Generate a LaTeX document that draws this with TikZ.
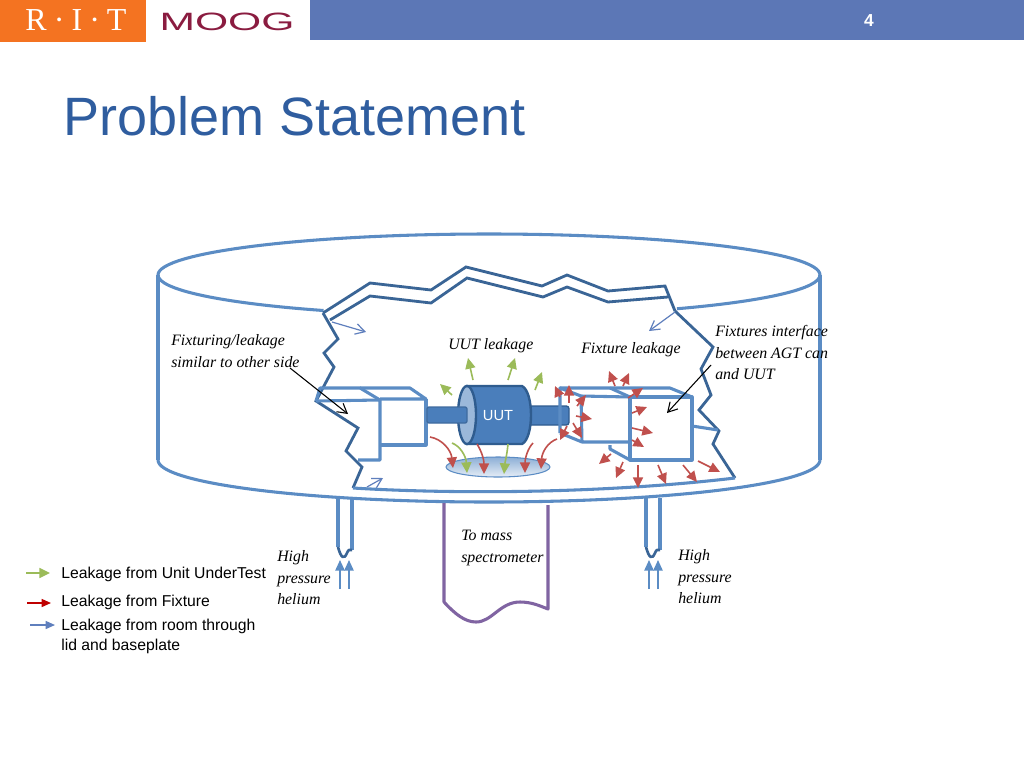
\documentclass[tikz,border=0pt]{standalone}
\usepackage{fontspec}
\setmainfont{Liberation Sans}
\newfontfamily\labelfont{Liberation Serif}
\usetikzlibrary{arrows.meta}
\definecolor{ritorange}{HTML}{F47321}
\definecolor{moogred}{HTML}{8A1C40}
\definecolor{headblue}{HTML}{5C77B6}
\definecolor{titleblue}{HTML}{2F5D9F}
\definecolor{tankblue}{HTML}{5B8CC4}
\definecolor{cutblue}{HTML}{3A6596}
\definecolor{uutblue}{HTML}{4A7EBB}
\definecolor{uutdark}{HTML}{2F5C8F}
\definecolor{leakred}{HTML}{C0504D}
\definecolor{leakgreen}{HTML}{9BBB59}
\definecolor{roomblue}{HTML}{5F7FBD}
\definecolor{tubepurple}{HTML}{8064A2}
\tikzset{
    tankline/.style={draw=tankblue, line width=2.3pt, line join=round},
    cutline/.style={draw=cutblue, line width=2.1pt, line join=miter},
    redleak/.style={-{Triangle[length=8pt,width=7.5pt]}, draw=leakred, line width=1.2pt},
    greenleak/.style={-{Triangle[length=8pt,width=7.5pt]}, draw=leakgreen, line width=1.2pt},
    roomleak/.style={-{Straight Barb[length=7pt,width=8pt]}, draw=roomblue, line width=0.9pt},
    heliumarrow/.style={-{Triangle[length=8pt,width=7pt]}, draw=tankblue, line width=1.2pt},
    leader/.style={-{Straight Barb[length=7pt,width=8pt]}, black, line width=0.8pt},
    italiclabel/.style={font=\labelfont\itshape\fontsize{11.9}{16.1}\selectfont, align=left, anchor=west, inner sep=0pt},
    legendlabel/.style={font=\fontsize{11.8}{15}\selectfont, align=left, anchor=west, inner sep=0pt}
}
\begin{document}
\begin{tikzpicture}[x=0.75pt, y=-0.75pt]
    \useasboundingbox (0,0) rectangle (1024,768);
    % Header band and logos
    \fill[white] (0,0) rectangle (1024,768);
    \fill[ritorange] (0,0) rectangle (146,42);
    \fill[headblue] (310,0) rectangle (1024,40);
    \node[text=white, font=\labelfont\fontsize{24}{24}\selectfont, inner sep=0pt] (ritlogo) at (76,20) {R\hspace{0.22em}·\hspace{0.22em}I\hspace{0.22em}·\hspace{0.22em}T};
    \node[text=moogred, font=\fontsize{18.8}{20}\selectfont, inner sep=0pt] (mooglogo) at (227,22) {\scalebox{1.7}[1]{MOOG}};
    \node[text=white, font=\bfseries\fontsize{13}{15}\selectfont, inner sep=0pt] (pagenum) at (869,21) {4};
    % Title
    \node[text=titleblue, font=\fontsize{40.5}{44}\selectfont, anchor=base west, inner sep=0pt] (title) at (63,135) {Problem Statement};
    % Chamber outline
    \draw[tankline] (158,275) arc[start angle=180, end angle=360, x radius=331, y radius=41];
    \draw[tankline] (158,275) arc[start angle=180, end angle=120, x radius=331, y radius=41];
    \draw[tankline] (820,275) arc[start angle=0, end angle=55.4, x radius=331, y radius=41];
    \draw[tankline] (158,275) -- (158,460);
    \draw[tankline] (820,275) -- (820,460);
    \draw[tankline] (158,460) arc[start angle=180, end angle=0, x radius=331, y radius=42];
    % Cut-away edge
    \draw[cutline] (323,313) -- (370,283) -- (431,290) -- (466,267) -- (542,286) -- (567,275) -- (608,291) -- (665,286) -- (675,311);
    \draw[cutline] (330,320) -- (370,296) -- (431,303) -- (467,278) -- (543,297) -- (567,287) -- (608,302) -- (668,297);
    \draw[cutline] (323,313) -- (338,339) -- (324,353) -- (334,367) -- (316,401) -- (358,428) -- (346,451) -- (362,467) -- (353,488);
    \draw[cutline] (675,311) -- (713,347) -- (701,369) -- (711,395) -- (699,410) -- (719,431) -- (713,444) -- (735,478);
    \draw[tankline] (353,488) .. controls (450,494) and (600,494) .. (735,478);
    % Left fixture
    \draw[tankline] (316,401) -- (320,388) -- (360,388) -- (380,400);
    \draw[tankline] (316,401) -- (380,400) -- (380,460) -- (358,460);
    \draw[tankline] (360,388) -- (410,388) -- (426,399) -- (380,399);
    \draw[tankline] (426,399) -- (426,445) -- (380,445);
    % UUT body and shafts
    \draw[fill=uutblue, draw=uutdark, line width=1pt, rounded corners=2pt] (527,406) rectangle (569,425);
    \draw[fill=uutblue, draw=uutdark, line width=1.8pt] (467,386) -- (522,386) .. controls (534,392) and (534,438) .. (522,444) -- (467,444) -- cycle;
    \draw[fill=uutblue!55, draw=uutdark, line width=1.8pt] (467,415) ellipse (9 and 29);
    \draw[fill=uutblue, draw=uutblue!85!black, line width=1pt, rounded corners=1.5pt] (427,407) rectangle (467,423);
    \node[text=white, font=\fontsize{11}{13}\selectfont, inner sep=0pt] (uut) at (498,416) {UUT};
    % Collection plate
    \draw[top color=tankblue!70, bottom color=tankblue!15, draw=tankblue, line width=0.8pt] (498,467) ellipse (52 and 10);
    % Right fixture
    \draw[tankline] (560,433) -- (560,388) -- (581,396) -- (630,397);
    \draw[tankline] (560,388) -- (670,388) -- (692,397);
    \draw[tankline] (610,388) -- (630,397);
    \draw[tankline] (581,396) -- (582,442) -- (630,442);
    \draw[tankline] (560,433) -- (582,442);
    \draw[tankline] (630,397) rectangle (692,460);
    \draw[tankline] (610,445) -- (610,449) -- (630,460);
    \draw[tankline] (692,426) -- (718,430);
    % Pipes and arrows for helium
    \draw[tankline] (338,498) -- (338,547);
    \draw[tankline] (352,498) -- (352,550);
    \draw[draw=cutblue, line width=2pt] (338,547) .. controls (341,558) and (344,560) .. (347,553) .. controls (348,550) and (350,549) .. (352,550);
    \draw[tankline] (646,498) -- (646,547);
    \draw[tankline] (660,498) -- (660,550);
    \draw[draw=cutblue, line width=2pt] (646,547) .. controls (649,558) and (652,560) .. (655,553) .. controls (656,550) and (658,549) .. (660,550);
    \draw[heliumarrow] (340,589) -- (340,560);
    \draw[heliumarrow] (349,589) -- (349,560);
    \draw[heliumarrow] (649,589) -- (649,560);
    \draw[heliumarrow] (658,589) -- (658,560);
    % Tube to the spectrometer
    \draw[draw=tubepurple, line width=2.3pt, line join=round] (444,503) -- (444,602) .. controls (455,614) and (465,622) .. (476,622) .. controls (492,622) and (500,602) .. (520,602) .. controls (532,602) and (540,606) .. (548,609) -- (548,505);
    % Room leakage
    \draw[roomleak] (332,322) -- (366,332);
    \draw[roomleak] (675,312) -- (649,331);
    \draw[roomleak] (367,487) -- (383,478);
    % UUT leakage
    \draw[greenleak] (473,380) -- (468,358);
    \draw[greenleak] (508,380) -- (515,358);
    \draw[greenleak] (535,390) -- (542,372);
    \draw[greenleak] (452,395) -- (440,384);
    \draw[greenleak] (452,443) .. controls (460,446) and (466,456) .. (467,473);
    \draw[greenleak] (508,444) .. controls (507,455) and (505,462) .. (504,474);
    % Fixture leakage, lower curved
    \draw[redleak] (430,437) .. controls (442,439) and (451,450) .. (453,468);
    \draw[redleak] (477,444) .. controls (482,452) and (484,460) .. (484,474);
    \draw[redleak] (533,443) .. controls (528,448) and (525,458) .. (525,473);
    \draw[redleak] (557,439) .. controls (548,442) and (542,452) .. (541,469);
    % Fixture leakage, right fixture
    \draw[redleak] (560,397) -- (555,386);
    \draw[redleak] (569,403) -- (569,385);
    \draw[redleak] (577,406) -- (586,395);
    \draw[redleak] (576,416) -- (592,419);
    \draw[redleak] (573,423) -- (582,438);
    \draw[redleak] (567,426) -- (560,440);
    \draw[redleak] (615,386) -- (609,371);
    \draw[redleak] (623,386) -- (629,373);
    \draw[redleak] (628,398) -- (643,388);
    \draw[redleak] (632,413) -- (647,407);
    \draw[redleak] (632,428) -- (653,433);
    \draw[redleak] (632,440) -- (644,447);
    \draw[redleak] (611,454) -- (599,464);
    \draw[redleak] (623,462) -- (616,478);
    \draw[redleak] (638,465) -- (638,488);
    \draw[redleak] (658,465) -- (666,484);
    \draw[redleak] (683,465) -- (697,482);
    \draw[redleak] (698,461) -- (720,472);
    %
    % Labels
    %
    \node[italiclabel] (fixturinglabel) at (171,351) {Fixturing/leakage\\similar to other side};
    \node[italiclabel] (uutlabel) at (448,345.5) {UUT leakage};
    \node[italiclabel] (fixturelabel) at (581,350) {Fixture leakage};
    \node[italiclabel] (interfacelabel) at (715,352.5) {Fixtures interface\\between AGT can\\and UUT};
    \node[italiclabel] (heliumleft) at (277,578) {High\\pressure\\helium};
    \node[italiclabel] (heliumright) at (678,577) {High\\pressure\\helium};
    \node[italiclabel] (masslabel) at (461,548) {To mass\\spectrometer};
    % Leaders
    \coordinate (leftfrom) at (290,368);
    \coordinate (leftto) at (348,414);
    \coordinate (rightfrom) at (711,365);
    \coordinate (rightto) at (667,413);
    \draw[leader] (leftfrom) -- (leftto);
    \draw[leader] (rightfrom) -- (rightto);
    %
    % Legend
    %
    \draw[greenleak] (26,573) -- (50,573);
    \draw[-{Triangle[length=7pt,width=6pt]}, draw=red!75!black, line width=1pt] (27,603) -- (51,603);
    \draw[-{Triangle[length=7pt,width=6pt]}, draw=roomblue, line width=1pt] (30,625) -- (55,625);
    \node[legendlabel] (legendgreen) at (61,574) {Leakage from Unit UnderTest};
    \node[legendlabel] (legendred) at (61,602) {Leakage from Fixture};
    \node[legendlabel] (legendblue) at (61,636) {Leakage from room through\\lid and baseplate};
\end{tikzpicture}
\end{document}
